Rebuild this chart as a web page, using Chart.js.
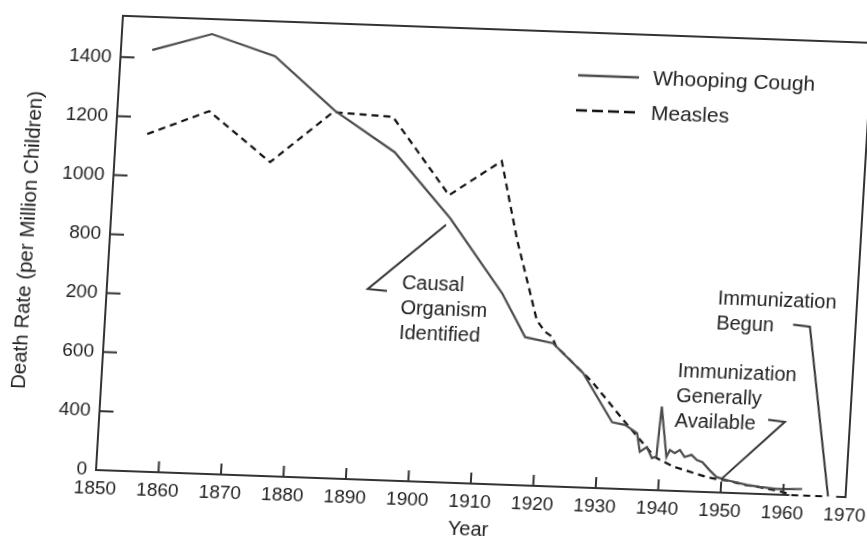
<!DOCTYPE html>
<html>
<head>
<meta charset="utf-8">
<title>Whooping Cough and Measles</title>
<script src="https://cdn.jsdelivr.net/npm/chart.js@4.4.1/dist/chart.umd.min.js"></script>
<style>
  html, body { margin: 0; padding: 0; background: #fff; overflow: hidden; }
  #wrap { width: 867px; height: 539px; overflow: hidden; }
  #chart {
    display: block;
    /* the scanned page sits a little turned and skewed, pivot on the 1850/0 corner */
    transform-origin: 96px 470px;
    transform: matrix(0.99935, 0.0361, -0.0592, 0.9982, 0, 0);
  }
</style>
</head>
<body>
<div id="wrap"><canvas id="chart" width="867" height="539"></canvas></div>
<script>
// values (y in axis units, ticks are evenly spaced)
const coughYears = [1855, 1864.4, 1874.7, 1884.8, 1894.7, 1904.2, 1913.2, 1917.3, 1921.8, 1926.9,
    1932, 1934.1, 1936.1, 1936.7, 1937.8, 1938.7, 1939.4, 1939.8, 1941, 1941.5,
    1942.3, 1943.1, 1943.9, 1945, 1945.9, 1946.8, 1948, 1949.2, 1950.8, 1954.1,
    1956.2, 1958.9, 1961.5, 1963];
const coughRates = [1428, 1489, 1422, 1244, 1112, 895, 648, 502, 485, 388,
    225, 217, 191, 128, 145, 108, 114, 284, 114, 138,
    128, 139, 116, 124, 107, 101, 75, 52, 43, 29,
    24, 19, 21, 22];

const measlesYears = [1855, 1864.7, 1874.9, 1884.5, 1894.1, 1903.8, 1911.9, 1915.1, 1917.2, 1919,
    1920.4, 1921.6, 1922.3, 1926.9, 1928.4, 1933.5, 1939.1, 1940, 1942.4, 1947.6,
    1949.2, 1950.8, 1954.1, 1956.2, 1959.4, 1961.5, 1967];
const measlesRates = [1143, 1228, 1063, 1240, 1231, 973, 1095, 830, 686, 561,
    523, 507, 476, 388, 360, 240, 113, 103, 81, 51,
    45, 42, 28, 23, 12, 0, 0];

const xTickValues = [1850, 1860, 1870, 1880, 1890, 1900, 1910, 1920, 1930, 1940, 1950, 1960, 1970];
const yTickValues = [0, 200, 400, 600, 800, 1000, 1200, 1400];
// labels exactly as printed on the original (bottom to top)
const yTickLabels = ['0', '400', '600', '200', '800', '1000', '1200', '1400'];

const ink = '#222';
const font = 'Liberation Sans, Arial, Helvetica, sans-serif';

// callouts: text anchor and pointer path in data coordinates
const callouts = [
    { lines: ['Causal', 'Organism', 'Identified'], at: [1897.1, 670],
      pointer: [[1903.6, 872], [1891.7, 646], [1894.8, 641]] },
    { lines: ['Immunization', 'Generally', 'Available'], at: [1942, 406],
      pointer: [[1956.9, 252], [1959.6, 247], [1950, 46]] },
    { lines: ['Immunization', 'Begun'], at: [1947.7, 655],
      pointer: [[1960, 577], [1962.7, 572], [1967.2, 0]] }
];

function points(xs, ys) {
    return xs.map((x, i) => ({ x: x, y: ys[i] }));
}

const decor = {
    id: 'decor',
    afterDatasetsDraw(chart) {
        const { ctx, chartArea: a, scales: { x, y } } = chart;
        ctx.save();
        ctx.strokeStyle = '#333';
        ctx.lineWidth = 2;
        ctx.setLineDash([]);

        // frame, bottom axis stops short of the measles tail like on the print
        ctx.beginPath();
        ctx.moveTo(x.getPixelForValue(1961), a.bottom);
        ctx.lineTo(a.left, a.bottom);
        ctx.lineTo(a.left, a.top);
        ctx.lineTo(a.right, a.top);
        ctx.lineTo(a.right, a.bottom);
        ctx.lineTo(x.getPixelForValue(1968.5), a.bottom);
        ctx.stroke();

        // tick marks point inwards
        ctx.beginPath();
        yTickValues.slice(1).forEach(v => {
            const py = y.getPixelForValue(v);
            ctx.moveTo(a.left, py);
            ctx.lineTo(a.left + 14, py);
        });
        xTickValues.slice(1, -1).forEach(v => {
            const px = x.getPixelForValue(v);
            ctx.moveTo(px, a.bottom);
            ctx.lineTo(px, a.bottom - 11);
        });
        ctx.stroke();

        // callouts
        ctx.fillStyle = ink;
        ctx.font = '20px ' + font;
        ctx.textAlign = 'left';
        ctx.textBaseline = 'middle';
        callouts.forEach(c => {
            const tx = x.getPixelForValue(c.at[0]);
            const ty = y.getPixelForValue(c.at[1]);
            c.lines.forEach((t, i) => ctx.fillText(t, tx, ty + i * 25));
            ctx.beginPath();
            c.pointer.forEach((p, i) => {
                const px = x.getPixelForValue(p[0]);
                const py = y.getPixelForValue(p[1]);
                if (i === 0) ctx.moveTo(px, py); else ctx.lineTo(px, py);
            });
            ctx.stroke();
        });

        // legend, top right inside the frame
        const sets = chart.data.datasets;
        ctx.font = '21px ' + font;
        [58, 93].forEach((row, i) => {
            const ds = sets[i];
            const ly = a.top + row - 15;
            ctx.strokeStyle = ds.borderColor;
            ctx.lineWidth = 2.5;
            ctx.setLineDash(ds.borderDash ? [11, 5] : []);
            ctx.beginPath();
            ctx.moveTo(a.left + 458, ly);
            ctx.lineTo(a.left + 519, ly);
            ctx.stroke();
            ctx.fillText(ds.label, a.left + 533, ly + 1);
        });
        ctx.restore();
    }
};

new Chart(document.getElementById('chart'), {
    type: 'line',
    data: {
        datasets: [{
            label: 'Whooping Cough',
            data: points(coughYears, coughRates),
            borderColor: '#4d4d4d',
            borderWidth: 2.2,
            pointRadius: 0,
            tension: 0,
            clip: false
        }, {
            label: 'Measles',
            data: points(measlesYears, measlesRates),
            borderColor: '#111',
            borderWidth: 2.2,
            borderDash: [7, 5],
            pointRadius: 0,
            tension: 0,
            clip: false
        }]
    },
    options: {
        responsive: false,
        animation: false,
        events: [],
        layout: { padding: { top: 15, right: 21, bottom: 0, left: 0 } },
        plugins: { legend: { display: false }, tooltip: { enabled: false } },
        scales: {
            x: {
                type: 'linear',
                min: 1850,
                max: 1970,
                grid: { display: false, drawTicks: false },
                border: { display: false },
                afterBuildTicks: s => { s.ticks = xTickValues.map(v => ({ value: v })); },
                afterFit: s => { s.height = 69; s.paddingLeft = 0; s.paddingRight = 0; },
                ticks: {
                    autoSkip: false,
                    maxRotation: 0,
                    padding: 7,
                    color: ink,
                    font: { family: font, size: 19 },
                    callback: v => String(v)
                },
                title: {
                    display: true,
                    text: 'Year',
                    color: ink,
                    font: { family: font, size: 20 },
                    padding: { top: 0, bottom: 11 }
                }
            },
            y: {
                min: 0,
                max: 1540,
                grid: { display: false, drawTicks: false },
                border: { display: false },
                afterBuildTicks: s => { s.ticks = yTickValues.map(v => ({ value: v })); },
                afterFit: s => { s.width = 96; s.paddingTop = 0; s.paddingBottom = 0; },
                ticks: {
                    padding: 9,
                    color: ink,
                    font: { family: font, size: 19 },
                    callback: v => yTickLabels[yTickValues.indexOf(v)]
                },
                title: {
                    display: true,
                    text: 'Death Rate (per Million Children)',
                    color: ink,
                    font: { family: font, size: 20.5 },
                    padding: { top: 2.5, bottom: 0 }
                }
            }
        }
    },
    plugins: [decor]
});
</script>
</body>
</html>
